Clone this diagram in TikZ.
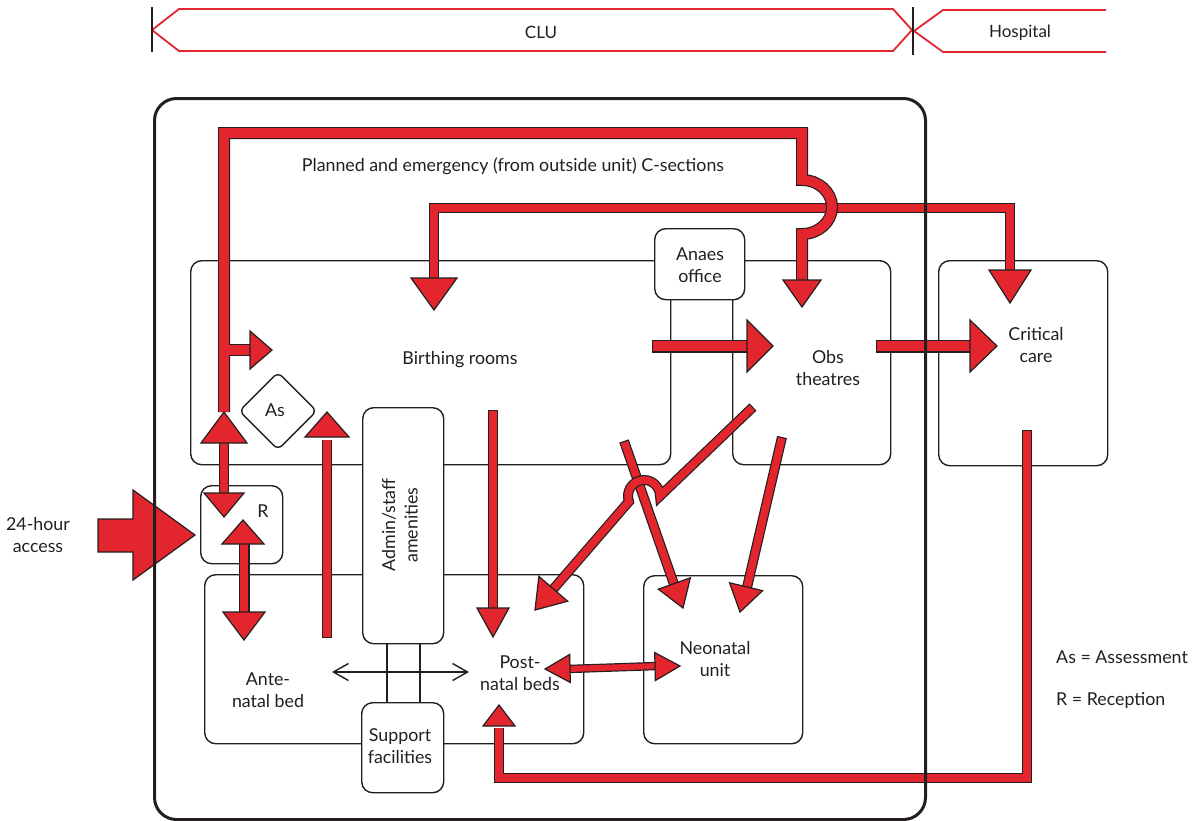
\documentclass[tikz,border=0pt]{standalone}
\usepackage{fontspec}
\setmainfont{Lato}
\usetikzlibrary{calc,arrows.meta,shapes.geometric}
\definecolor{ared}{HTML}{E3262D}
\definecolor{ink}{HTML}{231F20}
\tikzset{
  room/.style={draw=ink, line width=1.4pt, rounded corners=11pt, fill=white, anchor=north west, inner sep=0pt},
  lbl/.style={align=center, font=\fontsize{17.8}{22.5}\selectfont, text=ink, inner sep=0pt},
  headst/.style={fill=ared, draw=ink, line width=1.2pt, line join=miter},
  bannerline/.style={draw=ared, line width=1.8pt, line join=miter},
}
% red body: #1 red width, #2 total width, #3 path
\newcommand\redpath[3]{\draw[ink, line width=#2pt] #3; \draw[ared, line width=#1pt, shorten <=1.2pt] #3;}
\newcommand\redblack[2]{\draw[ink, line width=#1pt] #2;}
\newcommand\redfill[2]{\draw[ared, line width=#1pt] #2;}
% head: tip, toward, length, half width
\newcommand\rhead[4]{\coordinate (hb) at ($(#1)!#3!(#2)$);
  \draw[headst] (#1) -- ($(hb)!#4!90:(#1)$) -- ($(hb)!#4!-90:(#1)$) -- cycle;}
\begin{document}
\begin{tikzpicture}[x=1pt,y=-1pt]
\useasboundingbox (0,0) rectangle (1196,820);

% banner
\draw[bannerline] (152,30) -- (179,9) -- (893,9) -- (912,30) -- (893,51) -- (179,51) -- cycle;
\draw[bannerline] (1106,10) -- (943,10) -- (914,31) -- (943,52) -- (1106,52);
\draw[ink, line width=1.2pt] (152,7) -- (152,52);
\draw[ink, line width=1.2pt] (913,7) -- (913,55);
\node[lbl, font=\fontsize{17}{20}\selectfont] (clu) at (541,32) {CLU};
\node[lbl, font=\fontsize{17}{20}\selectfont] (hosp) at (1020,33) {Hospital};

% rooms
\node[room, minimum width=480pt, minimum height=204pt] (birth) at (190,260) {};
\node[room, minimum width=158pt, minimum height=204pt] (obs) at (732,260) {};
\node[room, minimum width=169pt, minimum height=205pt] (crit) at (938,260) {};
\node[room, minimum width=379pt, minimum height=169pt] (ante) at (204,574) {};
\node[room, minimum width=159pt, minimum height=168pt] (neo) at (643,575) {};
\node[room, minimum width=82pt, minimum height=78pt] (rec) at (200,485) {};
\node[room, minimum width=90pt, minimum height=71pt] (anaes) at (654,228) {};
\draw[ink, line width=1.4pt] (387,640) -- (387,704) (420,640) -- (420,704);
\node[room, minimum width=81pt, minimum height=236pt] (admin) at (362,407) {};
\node[room, minimum width=82pt, minimum height=90pt] (supp) at (361,702) {};
\node[draw=ink, line width=1.4pt, fill=white, diamond, rounded corners=6pt, minimum width=78pt, minimum height=78pt, inner sep=0pt] (as) at (278,411) {};

% labels
\node[lbl] (tplan) at (513,166) {Planned and emergency (from outside unit) C-sections};
\node[lbl] (tanaes) at (700,265) {Anaes\\office};
\node[lbl] (tbirth) at (460,360) {Birthing rooms};
\node[lbl] (tobs) at (828,368) {Obs\\theatres};
\node[lbl] (tcrit) at (1036,345) {Critical\\care};
\node[lbl] (tas) at (275,410) {As};
\node[lbl] (tr) at (263,511) {R};
\node[lbl] (tacc) at (38,535) {24-hour\\access};
\node[lbl, rotate=90] (tadmin) at (400,525) {Admin/staff\\amenities};
\node[lbl] (tante) at (268,690) {Ante-\\natal bed};
\node[lbl] (tpost) at (520,673) {Post-\\natal beds};
\node[lbl] (tneo) at (715,659) {Neonatal\\unit};
\node[lbl] (tsupp) at (400,746) {Support\\facilities};
\node[lbl, anchor=west] (leg1) at (1056,657) {As = Assessment};
\node[lbl, anchor=west] (leg2) at (1056,700) {R = Reception};

% thin black double arrow
\draw[ink, line width=1.4pt, {Straight Barb[length=15pt,width=17pt]}-{Straight Barb[length=15pt,width=17pt]}] (332,672) -- (469,672);

% top path 2 (birthing / critical care)
\redpath{7.6}{10}{(434,282) -- (434,208) -- (1010,208) -- (1010,274)}
\rhead{434,310}{434,208}{32pt}{23pt}
\rhead{1010,303}{1010,208}{33pt}{21pt}

% top path 1 (C-sections) + branch into birthing rooms
\redblack{12}{(224,412) -- (224,133) -- (802,133) -- (802,180) arc[start angle=-90,end angle=90,x radius=30,y radius=27] -- (802,284)}
\redblack{12}{(226,350) -- (254,350)}
\redfill{9.6}{(224,412) -- (224,133) -- (802,133) -- (802,180) arc[start angle=-90,end angle=90,x radius=30,y radius=27] -- (802,284)}
\redfill{9.6}{(222,350) -- (254,350)}
\rhead{802,307}{802,200}{27pt}{19pt}
\rhead{272,350}{224,350}{22pt}{19pt}

% horizontal arrows
\redpath{10.6}{13}{(652,346) -- (750,346)}
\rhead{773,346}{652,346}{26pt}{26pt}
\redpath{10.6}{13}{(876,346) -- (973,346)}
\rhead{997,346}{876,346}{27pt}{26pt}

% R <-> birthing
\redpath{8}{10.4}{(224,438) -- (224,497)}
\rhead{224,412}{224,500}{31pt}{23pt}
\rhead{224,517}{224,400}{24pt}{20pt}

% R <-> ante-natal
\redpath{8.5}{11}{(244,540) -- (244,616)}
\rhead{243,520}{243,600}{24pt}{21pt}
\rhead{244,640}{244,520}{28pt}{21pt}

% ante-natal -> birthing
\redpath{7.6}{10}{(327,638) -- (327,440)}
\rhead{327,412}{327,638}{25pt}{22pt}

% birthing -> post-natal
\redpath{7.6}{10}{(493,410) -- (493,612)}
\rhead{493,637}{493,410}{29pt}{16pt}

% critical care -> post-natal
\redpath{7.6}{10}{(1027,430) -- (1027,778) -- (499,778) -- (499,728)}
\rhead{499,705}{499,778}{21pt}{16pt}

% post-natal <-> neonatal
\redpath{6}{8.4}{(568,669) -- (657,666)}
\rhead{545,669}{680,666}{25pt}{14pt}
\rhead{680,666}{545,669}{25pt}{14pt}

% birthing -> neonatal
\redpath{7.6}{10}{(624,441) -- (676,590)}
\rhead{683,608}{624,441}{26pt}{17pt}

% obs -> neonatal
\redpath{7.6}{10}{(782,437) -- (745,596)}
\rhead{740,612}{782,437}{26pt}{17pt}

% obs -> post-natal (hops over)
\redpath{7.6}{10}{(753,407) -- (660,496) arc[start angle=0,end angle=-200,radius=16] -- (549,594)}
\rhead{535,610}{629,501}{28pt}{19pt}

% 24-hour access
\draw[headst] (98,519) -- (133,519) -- (133,490) -- (195,535) -- (133,580) -- (133,552) -- (98,552) -- cycle;

% outer CLU box
\node[draw=ink, line width=3pt, rounded corners=22pt, anchor=north west, inner sep=0pt, minimum width=771pt, minimum height=721pt] (clubox) at (153,97) {};
\end{tikzpicture}
\end{document}
